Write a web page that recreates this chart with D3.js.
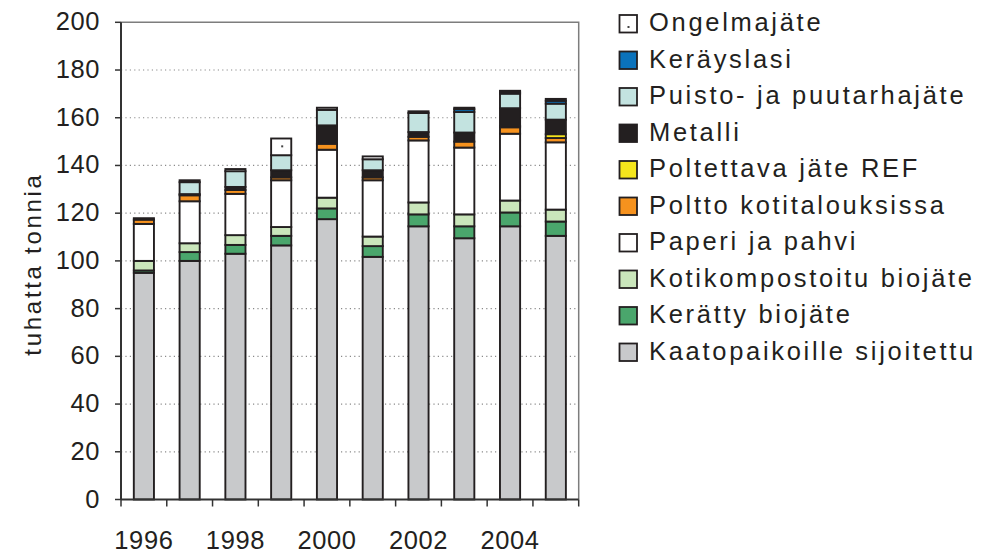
<!DOCTYPE html>
<html>
<head>
<meta charset="utf-8">
<script src="https://cdn.jsdelivr.net/npm/d3@7"></script>
<style>
  html, body { margin: 0; padding: 0; background: #fff; }
  svg { display: block; font-family: "Liberation Sans", Arial, sans-serif; }
</style>
</head>
<body>
<svg id="chart" width="981" height="554"></svg>
<script>
// Jätemäärät vuosittain, tuhatta tonnia
const years = [1996, 1997, 1998, 1999, 2000, 2001, 2002, 2003, 2004, 2005];
const xTickYears = [1996, 1998, 2000, 2002, 2004];
const yTicks = [0, 20, 40, 60, 80, 100, 120, 140, 160, 180, 200];

const kaatopaikoille = [95, 100, 103, 106.5, 117.5, 101.7, 114.5, 109.5, 114.5, 110.5];
const kerattyBio     = [1, 3.7, 3.7, 4, 4.5, 4.5, 5, 5, 5.8, 6];
const kotikomposti   = [4, 3.7, 4.1, 3.7, 4.5, 4, 5, 5, 5, 5];
const paperi         = [15.5, 17.6, 17.3, 19.6, 20.1, 23.6, 26, 28, 28, 28.2];
const polttoKoti     = [1.8, 2.5, 1.6, 1.2, 2.5, 1.2, 1.5, 2.5, 2.7, 1.8];
const ref            = [0, 0, 0, 0, 0, 0, 0, 0, 0.6, 1.6];
const metalli        = [0.6, 0.5, 1.3, 3, 7.7, 3, 2, 3.8, 7.4, 6.1];
const puisto         = [0, 5, 6.6, 6.3, 6.5, 4.6, 8, 8.6, 6.1, 6.7];
const keraysLasi     = [0, 0, 0, 0, 0, 0, 0, 1.2, 0.6, 1.2];
const ongelma        = [0, 0.8, 0.9, 7, 0.9, 1.2, 0.7, 0.6, 0.6, 0.8];

// Stack order, bottom to top
const seriesNames = [
  "Kaatopaikoille sijoitettu", "Kerätty biojäte", "Kotikompostoitu biojäte",
  "Paperi ja pahvi", "Poltto kotitalouksissa", "Poltettava jäte REF",
  "Metalli", "Puisto- ja puutarhajäte", "Keräyslasi", "Ongelmajäte"
];
const seriesValues = [
  kaatopaikoille, kerattyBio, kotikomposti, paperi, polttoKoti,
  ref, metalli, puisto, keraysLasi, ongelma
];
const seriesColors = [
  "#c8c9cb", "#4aa66c", "#cae6bb", "#ffffff", "#f6921e",
  "#f5e61c", "#231f20", "#c3e3e0", "#0a72bb", "#ffffff"
];

const rows = years.map((y, i) => {
  const r = { year: y };
  seriesNames.forEach((n, k) => { r[n] = seriesValues[k][i]; });
  return r;
});

const svg = d3.select("#chart");
const ink = "#231f20";

const x = d3.scaleBand()
  .domain(years)
  .range([121, 578.7])
  .paddingInner(0.56)
  .paddingOuter(0.28);

const y = d3.scaleLinear().domain([0, 200]).range([499.5, 22.3]);

// Gridlines (dotted)
svg.append("g")
  .selectAll("line")
  .data(yTicks.filter(t => t > 0 && t < 200))
  .join("line")
  .attr("x1", 121).attr("x2", 578.7)
  .attr("y1", d => y(d)).attr("y2", d => y(d))
  .attr("stroke", "#8a8a8a")
  .attr("stroke-width", 1.2)
  .attr("stroke-dasharray", "1.2,3.2");

// Plot area frame: top and right edges
svg.append("path")
  .attr("d", `M121,${y(200)}H578.7V${y(0)}`)
  .attr("fill", "none")
  .attr("stroke", "#7d7d7d")
  .attr("stroke-width", 1.5);

// Stacked bars
const stack = d3.stack().keys(seriesNames);
const stacked = stack(rows);

const layers = svg.append("g")
  .selectAll("g")
  .data(stacked)
  .join("g")
  .attr("fill", (d, i) => seriesColors[i]);

layers.selectAll("rect")
  .data(d => d)
  .join("rect")
  .attr("x", d => x(d.data.year))
  .attr("width", x.bandwidth())
  .attr("y", d => y(d[1]))
  .attr("height", d => y(d[0]) - y(d[1]))
  .attr("stroke", ink)
  .attr("stroke-width", 1.9)
  .style("display", d => (d[1] - d[0]) > 0 ? null : "none");

// Dot marker in the hazardous-waste segments that are tall enough
const ongelmaLayer = stacked[seriesNames.indexOf("Ongelmajäte")];
svg.append("g")
  .selectAll("rect")
  .data(ongelmaLayer.filter(d => y(d[0]) - y(d[1]) > 6))
  .join("rect")
  .attr("x", d => x(d.data.year) + x.bandwidth() / 2)
  .attr("y", d => (y(d[0]) + y(d[1])) / 2 - 1.5)
  .attr("width", 2).attr("height", 2)
  .attr("fill", "#444");

// Y axis
const yAxis = svg.append("g");
yAxis.append("line")
  .attr("x1", 121).attr("x2", 121)
  .attr("y1", y(200)).attr("y2", y(0))
  .attr("stroke", "#333").attr("stroke-width", 2);
yAxis.selectAll("line.tick")
  .data(yTicks)
  .join("line")
  .attr("class", "tick")
  .attr("x1", 115).attr("x2", 121)
  .attr("y1", d => y(d)).attr("y2", d => y(d))
  .attr("stroke", "#333").attr("stroke-width", 1.5);
yAxis.selectAll("text")
  .data(yTicks)
  .join("text")
  .attr("x", 100)
  .attr("y", d => y(d) + 8)
  .attr("text-anchor", "end")
  .attr("font-size", 25.5)
  .attr("letter-spacing", 0.6)
  .attr("fill", ink)
  .text(d => d);

// X axis
const xAxis = svg.append("g");
xAxis.append("line")
  .attr("x1", 121).attr("x2", 578.7)
  .attr("y1", y(0)).attr("y2", y(0))
  .attr("stroke", "#333").attr("stroke-width", 2);
const boundaries = years.map(yr => x(yr) - x.step() * x.paddingInner() / 2);
boundaries.push(578.7);
boundaries[0] = 121;
xAxis.selectAll("line.tick")
  .data(boundaries)
  .join("line")
  .attr("class", "tick")
  .attr("x1", d => d).attr("x2", d => d)
  .attr("y1", y(0)).attr("y2", y(0) + 7)
  .attr("stroke", "#333").attr("stroke-width", 1.5);
xAxis.selectAll("text")
  .data(xTickYears)
  .join("text")
  .attr("x", d => x(d) + x.bandwidth() / 2)
  .attr("y", 548.5)
  .attr("text-anchor", "middle")
  .attr("font-size", 25.5)
  .attr("letter-spacing", 0.6)
  .attr("fill", ink)
  .text(d => d);

// Y axis title
svg.append("text")
  .attr("transform", "translate(41,264) rotate(-90)")
  .attr("text-anchor", "middle")
  .attr("font-size", 24)
  .attr("letter-spacing", 2.7)
  .attr("fill", ink)
  .text("tuhatta tonnia");

// Legend, top entry is the top of the stack
const legendItems = seriesNames.map((n, i) => ({ name: n, color: seriesColors[i] })).reverse();
const legend = svg.append("g");
const item = legend.selectAll("g")
  .data(legendItems)
  .join("g")
  .attr("transform", (d, i) => `translate(619.5, ${24 + i * 36.5})`);
item.append("rect")
  .attr("x", 0).attr("y", -9)
  .attr("width", 17.5).attr("height", 17.5)
  .attr("fill", d => d.color)
  .attr("stroke", ink)
  .attr("stroke-width", 1.8);
item.filter(d => d.name === "Ongelmajäte")
  .append("rect")
  .attr("x", 8).attr("y", 2).attr("width", 2).attr("height", 2)
  .attr("fill", "#444");
item.append("text")
  .attr("x", 29.5)
  .attr("y", 7)
  .attr("font-size", 25.5)
  .attr("letter-spacing", 2.7)
  .attr("fill", ink)
  .text(d => d.name);
</script>
</body>
</html>
